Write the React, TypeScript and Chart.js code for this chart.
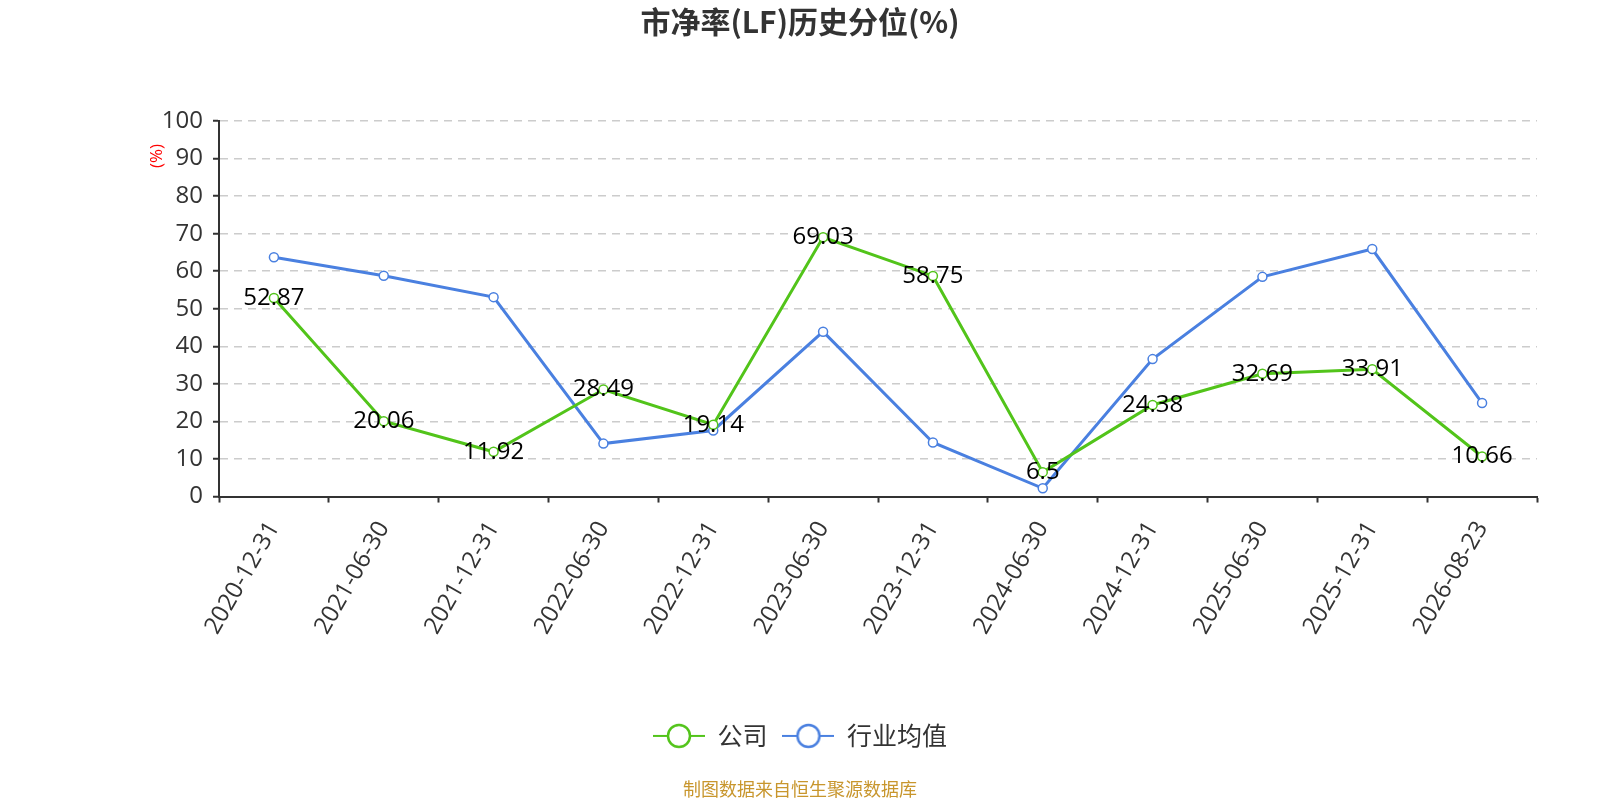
import { useEffect, useRef } from 'react';
import { Chart, registerables } from 'chart.js';
import type { Plugin } from 'chart.js';

Chart.register(...registerables);

const dates = [
  '2020-12-31', '2021-06-30', '2021-12-31', '2022-06-30', '2022-12-31', '2023-06-30',
  '2023-12-31', '2024-06-30', '2024-12-31', '2025-06-30', '2025-12-31', '2026-08-23',
];
const companyValues = [52.87, 20.06, 11.92, 28.49, 19.14, 69.03, 58.75, 6.5, 24.38, 32.69, 33.91, 10.66];
const industryValues = [63.7, 58.8, 53.1, 14.1, 17.6, 43.9, 14.4, 2.2, 36.6, 58.5, 65.9, 24.9];
const seriesNames = ['公司', '行业均值'];

const GREEN = '#52c41a';
const BLUE = '#4a80e0';
const FONT = '"Open Sans", "Noto Sans CJK SC", sans-serif';
const CJK = '"Noto Sans CJK SC", sans-serif';

function legendIcon(color: string) {
  const c = document.createElement('canvas');
  c.width = 52;
  c.height = 28;
  const ctx = c.getContext('2d')!;
  ctx.strokeStyle = color;
  ctx.lineWidth = 2;
  ctx.beginPath();
  ctx.moveTo(0, 14);
  ctx.lineTo(52, 14);
  ctx.stroke();
  ctx.fillStyle = '#fff';
  ctx.lineWidth = 2.5;
  ctx.beginPath();
  ctx.arc(26, 14, 11, 0, Math.PI * 2);
  ctx.fill();
  ctx.stroke();
  return c;
}

// values of the company line, written on each point
const valueLabels: Plugin<'line'> = {
  id: 'valueLabels',
  afterDatasetsDraw(chart) {
    const { ctx } = chart;
    const meta = chart.getDatasetMeta(0);
    ctx.save();
    ctx.font = `24px ${FONT}`;
    ctx.fillStyle = '#000';
    ctx.textAlign = 'center';
    ctx.textBaseline = 'middle';
    meta.data.forEach((pt, i) => {
      ctx.fillText(String(companyValues[i]), pt.x, pt.y);
    });
    ctx.restore();
  },
};

// red "(%)" unit beside the top of the y axis
const unitLabel: Plugin<'line'> = {
  id: 'unitLabel',
  afterDraw(chart) {
    const { ctx, chartArea } = chart;
    ctx.save();
    ctx.translate(chartArea.left - 62, chartArea.top + 35);
    ctx.rotate(-Math.PI / 2);
    ctx.font = `17px ${FONT}`;
    ctx.fillStyle = '#ff0000';
    ctx.textAlign = 'center';
    ctx.textBaseline = 'middle';
    ctx.fillText('(%)', 0, 0);
    ctx.restore();
  },
};

export default function App() {
  const chartRef = useRef<HTMLCanvasElement>(null);
  const chartInstance = useRef<Chart | null>(null);

  useEffect(() => {
    document.body.style.margin = '0';
    if (!chartRef.current) return;
    if (chartInstance.current) chartInstance.current.destroy();

    const ctx = chartRef.current.getContext('2d');
    if (!ctx) return;

    Chart.defaults.font.family = FONT;
    const icons = [legendIcon(GREEN), legendIcon(BLUE)];

    chartInstance.current = new Chart(ctx, {
      type: 'line',
      data: {
        labels: dates,
        datasets: [
          {
            label: seriesNames[0],
            data: companyValues,
            borderColor: GREEN,
            backgroundColor: '#fff',
            borderWidth: 3,
            pointRadius: 4.5,
            pointBorderWidth: 1.5,
            pointBackgroundColor: '#fff',
            pointBorderColor: GREEN,
          },
          {
            label: seriesNames[1],
            data: industryValues,
            borderColor: BLUE,
            backgroundColor: '#fff',
            borderWidth: 3,
            pointRadius: 4.5,
            pointBorderWidth: 1.5,
            pointBackgroundColor: '#fff',
            pointBorderColor: BLUE,
          },
        ],
      },
      options: {
        responsive: false,
        animation: false,
        devicePixelRatio: 1,
        layout: { padding: { left: 63, right: 63, top: 0, bottom: 0 } },
        plugins: {
          title: {
            display: true,
            text: '市净率(LF)历史分位(%)',
            color: '#333',
            font: { family: CJK, size: 30, weight: 'bold' },
            padding: { top: 4, bottom: 81 },
          },
          subtitle: {
            display: true,
            position: 'bottom',
            text: '制图数据来自恒生聚源数据库',
            color: '#c8962d',
            font: { family: CJK, size: 18 },
            padding: { top: 20, bottom: 0 },
          },
          legend: {
            position: 'bottom',
            labels: {
              usePointStyle: true,
              pointStyleWidth: 52,
              color: '#333',
              font: { family: CJK, size: 25 },
              padding: 15,
              generateLabels: (chart) =>
                chart.data.datasets.map((ds, i) => ({
                  text: ds.label as string,
                  pointStyle: icons[i],
                  fillStyle: '#fff',
                  strokeStyle: ds.borderColor as string,
                  lineWidth: 0,
                  hidden: false,
                  datasetIndex: i,
                  fontColor: '#333',
                })),
            },
          },
          tooltip: { enabled: false },
        },
        scales: {
          x: {
            offset: true,
            border: { color: '#333', width: 2 },
            grid: {
              display: true,
              drawOnChartArea: false,
              drawTicks: true,
              tickLength: 6,
              offset: true,
              tickColor: '#333',
              tickWidth: 2,
            },
            ticks: {
              color: '#333',
              font: { size: 24 },
              minRotation: 60,
              maxRotation: 60,
              autoSkip: false,
              padding: 14,
            },
            afterFit: (scale) => {
              scale.height += 55;
            },
          },
          y: {
            min: 0,
            max: 100,
            border: { color: '#333', width: 2, dash: [8, 6] },
            grid: {
              color: '#cccccc',
              lineWidth: 1.5,
              tickLength: 6,
              tickColor: '#333',
              tickWidth: 2,
              tickBorderDash: [],
            },
            ticks: {
              stepSize: 10,
              color: '#333',
              font: { size: 24 },
              padding: 10,
            },
            afterFit: (scale) => {
              scale.width = 156;
            },
          },
        },
      },
      plugins: [valueLabels, unitLabel],
    });

    return () => {
      if (chartInstance.current) {
        chartInstance.current.destroy();
        chartInstance.current = null;
      }
    };
  }, []);

  return (
    <div style={{ width: '1600px', height: '800px', background: '#fff' }}>
      <canvas ref={chartRef} width={1600} height={800} style={{ display: 'block' }}></canvas>
    </div>
  );
}
